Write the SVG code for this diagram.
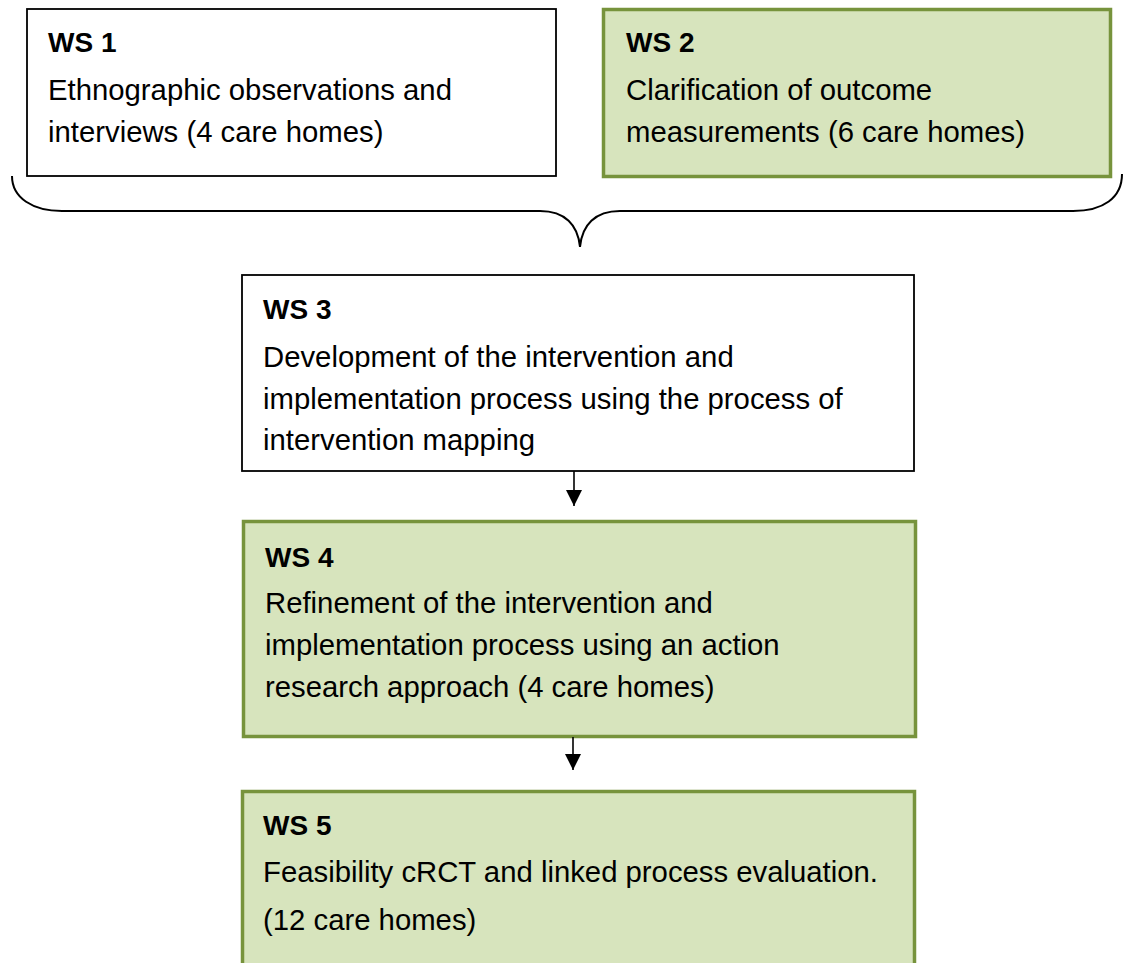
<svg xmlns="http://www.w3.org/2000/svg" width="1124" height="963" viewBox="0 0 1124 963">
  <defs>
    <style>
      .plain { fill: #ffffff; stroke: #000000; stroke-width: 1.8; }
      .green { fill: #d7e4bd; stroke: #77933c; stroke-width: 3.5; }
      .label { font-family: "Liberation Sans", Arial, sans-serif; font-size: 28px; font-weight: bold; fill: #000000; }
      .body { font-family: "Liberation Sans", Arial, sans-serif; font-size: 29.3px; fill: #000000; }
      .link { fill: none; stroke: #000000; stroke-width: 1.6; }
      .brace { fill: none; stroke: #000000; stroke-width: 2; }
    </style>
    <marker id="arrow" viewBox="0 0 16 16" refX="16" refY="8" markerWidth="16" markerHeight="16" markerUnits="userSpaceOnUse" orient="auto">
      <path d="M0,0 L16,8 L0,16 Z" fill="#000000"/>
    </marker>
  </defs>

  <g id="ws1">
    <rect class="plain" x="27" y="9" width="529" height="167"/>
    <text class="label" x="48" y="52">WS 1</text>
    <text class="body" x="48" y="100">Ethnographic observations and</text>
    <text class="body" x="48" y="142">interviews (4 care homes)</text>
  </g>

  <g id="ws2">
    <rect class="green" x="603.5" y="9.5" width="507" height="167"/>
    <text class="label" x="626" y="52">WS 2</text>
    <text class="body" x="626" y="100">Clarification of outcome</text>
    <text class="body" x="626" y="142">measurements (6 care homes)</text>
  </g>

  <g id="ws3">
    <rect class="plain" x="242" y="275" width="672" height="196"/>
    <text class="label" x="263" y="319">WS 3</text>
    <text class="body" x="263" y="367">Development of the intervention and</text>
    <text class="body" x="263" y="409">implementation process using the process of</text>
    <text class="body" x="263" y="450">intervention mapping</text>
  </g>

  <g id="ws4">
    <rect class="green" x="243.5" y="521.5" width="672" height="215"/>
    <text class="label" x="265" y="567">WS 4</text>
    <text class="body" x="265" y="613">Refinement of the intervention and</text>
    <text class="body" x="265" y="655">implementation process using an action</text>
    <text class="body" x="265" y="697">research approach (4 care homes)</text>
  </g>

  <g id="ws5">
    <rect class="green" x="242.5" y="791.5" width="672" height="190"/>
    <text class="label" x="263" y="835">WS 5</text>
    <text class="body" x="263" y="882">Feasibility cRCT and linked process evaluation.</text>
    <text class="body" x="263" y="930">(12 care homes)</text>
  </g>

  <g id="connectors">
    <!-- curly brace gathering WS 1 and WS 2 -->
    <path class="brace" d="M12,176 C12,198 33,211 62,211 L540,211 C565,211 578,225 580,247 C582,225 595,211 620,211 L1073,211 C1103,211 1122,198 1122,174"/>
    <line class="link" x1="574" y1="471" x2="574" y2="506" marker-end="url(#arrow)"/>
    <line class="link" x1="573" y1="737" x2="573" y2="770" marker-end="url(#arrow)"/>
  </g>
</svg>
